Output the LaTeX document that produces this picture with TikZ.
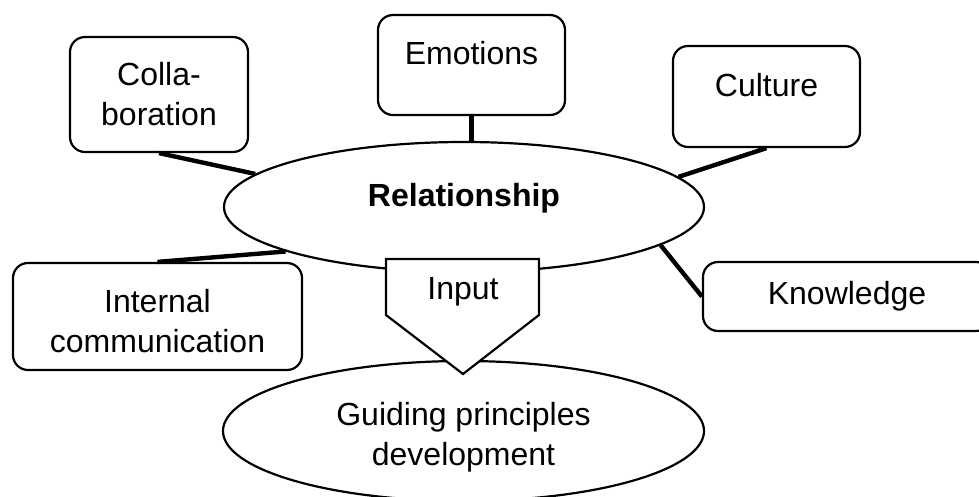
\documentclass[tikz,border=0pt]{standalone}
\usepackage{fontspec}
\setmainfont{Liberation Sans}
\usepackage{tikz}
\usetikzlibrary{shapes.geometric}
\tikzset{every node/.style={font=\fontsize{16}{20}\selectfont, align=center}}
\tikzset{
  topicBox/.style={shape=rectangle, draw=black, line width=1.1pt, rounded corners=7.5pt, fill=white},
  coreEllipse/.style={shape=ellipse, draw=black, line width=1.1pt, fill=white},
  raisedText/.style={text height=11.5pt, text depth=11.5pt},
  loweredText/.style={text height=#1},
  spokeLink/.style={draw=black, line width=2.2pt},
  inputArrow/.style={draw=black, line width=1.1pt, fill=white, line join=miter}
}

\begin{document}
\begin{tikzpicture}[x=0.5pt, y=-0.5pt]
        \useasboundingbox (0,0) rectangle (979,497);
        % ellipses
        \node[minimum width=240pt, minimum height=65pt] (rel) [coreEllipse, raisedText] at (464,207) {\textbf{Relationship}};
        \node[minimum width=240.5pt, minimum height=70pt] (guide) [coreEllipse, loweredText=37.5pt] at (463.5,431) {Guiding principles\\development};
        % topic boxes
        \node[minimum width=89pt, minimum height=57.5pt] (collab) [topicBox] at (159,94.5) {Colla-\\boration};
        \node[minimum width=93.5pt, minimum height=50pt] (emo) [topicBox, raisedText] at (471.5,65) {Emotions};
        \node[minimum width=93.5pt, minimum height=50.5pt] (cult) [topicBox, raisedText] at (766.5,96.5) {Culture};
        \node[minimum width=144.5pt, minimum height=53.5pt] (intcom) [topicBox, loweredText=36.5pt] at (157.5,316.5) {Internal\\communication};
        \node[minimum width=144pt, minimum height=34.5pt] (know) [topicBox] at (847,296.5) {Knowledge};

         \path
    (collab.south) edge [spokeLink] (rel.171)
    (emo.south) edge [spokeLink] (emo.south |- rel.north)
    (cult.south) edge [spokeLink] (rel.8)
    (intcom.north) edge [spokeLink] (rel.194)
    (know.west) edge [spokeLink] (rel.-11);

        % input arrow
        \draw [inputArrow] (386,259) -- (539,259) -- (539,315) -- (463,374) -- (386,315) -- cycle;
        \node (input) at (463,291.5) {Input};
\end{tikzpicture}
\end{document}
